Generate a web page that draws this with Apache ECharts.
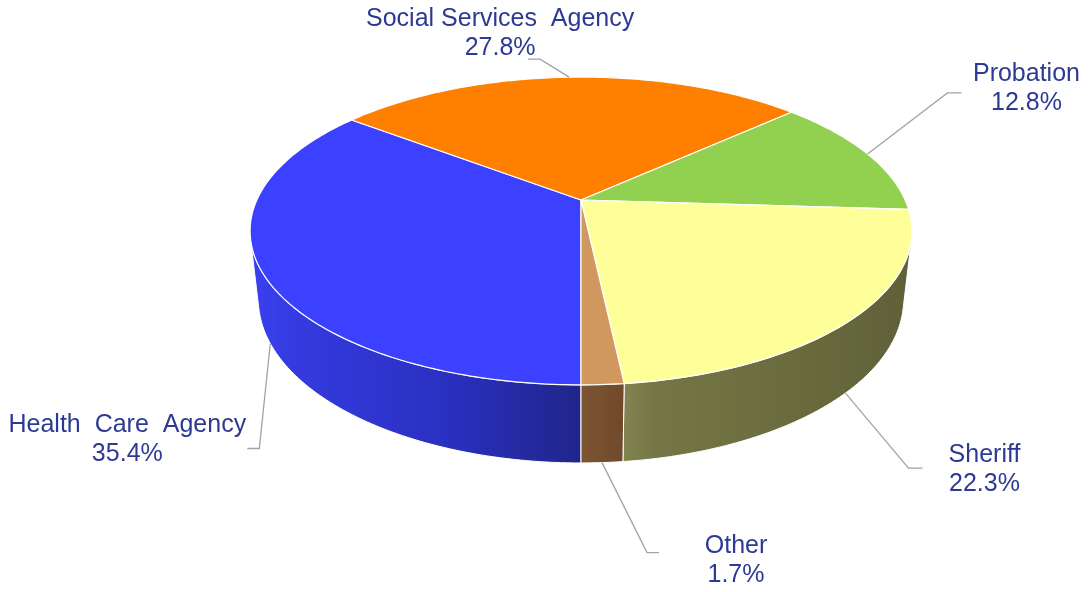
<!DOCTYPE html>
<html>
<head>
<meta charset="utf-8">
<script src="https://cdn.jsdelivr.net/npm/echarts@6/dist/echarts.min.js"></script>
<style>
  html, body { margin: 0; padding: 0; background: #ffffff; }
  #chart { width: 1089px; height: 592px; }
</style>
</head>
<body>
<div id="chart"></div>
<script>
// Budget share by agency
const categories = ['Health Care Agency', 'Social Services Agency', 'Probation', 'Sheriff', 'Other'];
const labelNames = ['Health  Care  Agency', 'Social Services  Agency', 'Probation', 'Sheriff', 'Other'];
const shares = [35.4, 27.8, 12.8, 22.3, 1.7];

// Styling
const topColors = ['#3c41ff', '#ff7f00', '#92d050', '#ffff99', '#d0975f'];
const wallStops = [
  [[0, '#3a40f0'], [0.15, '#343ade'], [0.6, '#2a30bf'], [1, '#20258a']],
  [[0, '#d96c00'], [1, '#a85400']],
  [[0, '#7cb043'], [1, '#5f8834']],
  [[0, '#828451'], [0.12, '#747645'], [0.5, '#6c6e3f'], [1, '#5f6039']],
  [[0, '#7d5533'], [1, '#70492b']]
];
const TEXT_COLOR = '#2d3a94';
const LEADER_COLOR = '#a3a3a3';
const FONT = '25px "Liberation Sans", Arial, Helvetica, sans-serif';

// Leader layout: elbow offset from the slice anchor, horizontal tail, text centre offset from tail end
const labelGuides = [
  { elbow: [-11, 105], tail: -12, text: [-120, -9] },
  { elbow: [-29, -18], tail: -12, text: [-28, -26] },
  { elbow: [80, -61], tail: 14, text: [65, -4] },
  { elbow: [63, 75], tail: 14, text: [62, 2] },
  { elbow: [45, 90], tail: 12, text: [77, 8] }
];

// Perspective view of a unit-radius disc lying flat, seen from above and in front
const VIEW = { cx: 581, cy: 200, f: 1434, tilt: 27.1 * Math.PI / 180, dist: 4.424, depth: 0.2386 };
const SIN_T = Math.sin(VIEW.tilt), COS_T = Math.cos(VIEW.tilt);

function project(x, z, y) {
  const yc = z * SIN_T + y * COS_T;
  const d = VIEW.dist + z * COS_T - y * SIN_T;
  return [VIEW.cx + VIEW.f * x / d, VIEW.cy - VIEW.f * yc / d];
}
function rim(phiDeg, y) {
  const r = phiDeg * Math.PI / 180;
  return project(Math.cos(r), Math.sin(r), y);
}
function arc(from, to, y) {
  const n = Math.max(2, Math.ceil(Math.abs(to - from)) + 1);
  const pts = [];
  for (let i = 0; i < n; i++) pts.push(rim(from + (to - from) * i / (n - 1), y));
  return pts;
}

// Slice angles: first slice starts at the front and runs clockwise seen from above
const total = shares.reduce((a, b) => a + b, 0);
const slices = [];
(function () {
  let a = 270;
  shares.forEach(v => {
    const sweep = v / total * 360;
    slices.push({ start: a, end: a - sweep, mid: a - sweep / 2 });
    a -= sweep;
  });
})();

// Part of the outer wall that faces the camera
const halfHidden = Math.asin(1 / (VIEW.dist * COS_T)) * 180 / Math.PI;
const VIS = [180 + halfHidden, 360 - halfHidden];

function visibleSpan(s) {
  for (let k = -1; k <= 1; k++) {
    const lo = Math.max(s.end, VIS[0] + 360 * k);
    const hi = Math.min(s.start, VIS[1] + 360 * k);
    if (hi > lo) return [lo, hi];
  }
  return null;
}
function inVisible(phi) {
  for (let k = -1; k <= 1; k++) {
    if (phi > VIS[0] + 360 * k && phi < VIS[1] + 360 * k) return true;
  }
  return false;
}

function renderWall(params) {
  const i = params.dataIndex;
  const span = visibleSpan(slices[i]);
  if (!span) return { type: 'group', children: [] };
  const pts = arc(span[0], span[1], 0).concat(arc(span[1], span[0], -VIEW.depth));
  return {
    type: 'polygon',
    shape: { points: pts },
    style: {
      fill: new echarts.graphic.LinearGradient(0, 0, 1, 0,
        wallStops[i].map(s => ({ offset: s[0], color: s[1] }))),
      stroke: '#ffffff',
      lineWidth: 1
    }
  };
}

function renderTop(params) {
  const i = params.dataIndex;
  const s = slices[i];
  const pts = [project(0, 0, 0)].concat(arc(s.start, s.end, 0));
  return {
    type: 'polygon',
    shape: { points: pts },
    style: { fill: topColors[i], stroke: '#ffffff', lineWidth: 1.2, lineJoin: 'round' }
  };
}

function renderLabel(params) {
  const i = params.dataIndex;
  const s = slices[i];
  const g = labelGuides[i];
  const anchor = rim(s.mid, inVisible(s.mid) ? -VIEW.depth : 0);
  const elbow = [anchor[0] + g.elbow[0], anchor[1] + g.elbow[1]];
  const tail = [elbow[0] + g.tail, elbow[1]];
  return {
    type: 'group',
    children: [
      {
        type: 'polyline',
        shape: { points: [anchor, elbow, tail] },
        style: { stroke: LEADER_COLOR, lineWidth: 1.3, fill: null }
      },
      {
        type: 'text',
        x: tail[0] + g.text[0],
        y: tail[1] + g.text[1],
        style: {
          text: labelNames[i] + '\n' + shares[i].toFixed(1) + '%',
          fill: TEXT_COLOR,
          font: FONT,
          align: 'center',
          verticalAlign: 'middle',
          lineHeight: 29
        }
      }
    ]
  };
}

const data = shares.map((v, i) => ({ name: categories[i], value: v }));

const chart = echarts.init(document.getElementById('chart'), null, { renderer: 'canvas' });
chart.setOption({
  backgroundColor: '#ffffff',
  animation: false,
  series: [
    { type: 'custom', coordinateSystem: 'none', z: 1, data: data, renderItem: renderWall, silent: true },
    { type: 'custom', coordinateSystem: 'none', z: 2, data: data, renderItem: renderTop, silent: true },
    { type: 'custom', coordinateSystem: 'none', z: 3, data: data, renderItem: renderLabel, silent: true }
  ]
});
</script>
</body>
</html>
